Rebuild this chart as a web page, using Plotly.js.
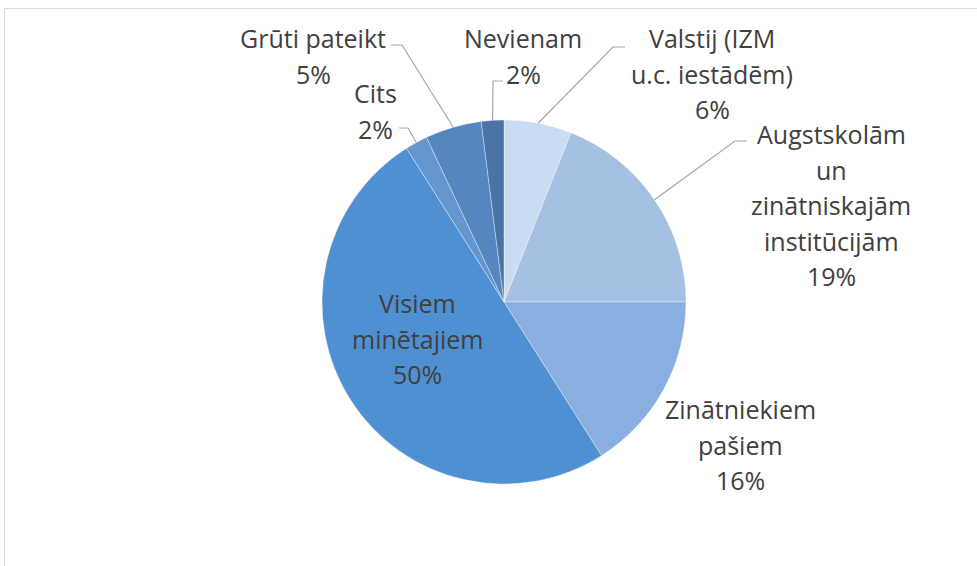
<!DOCTYPE html>
<html>
<head>
<meta charset="utf-8">
<script src="https://cdn.plot.ly/plotly-3.0.1.min.js"></script>
<style>
  html, body { margin: 0; padding: 0; background: #fff; }
  #wrap { position: relative; width: 977px; height: 566px; overflow: hidden; }
  #chart { width: 977px; height: 566px; }
  #frame { position: absolute; left: 4px; top: 8px; width: 980px; height: 570px;
           border-top: 1.5px solid #d9d9d9; border-left: 1.5px solid #d9d9d9; pointer-events: none; }
</style>
</head>
<body>
<div id="wrap"><div id="chart"></div><div id="frame"></div></div>
<script>
// Data
const categories = ["Valstij (IZM u.c. iestādēm)", "Augstskolām un zinātniskajām institūcijām",
  "Zinātniekiem pašiem", "Visiem minētajiem", "Cits", "Grūti pateikt", "Nevienam"];
const values = [6, 19, 16, 50, 2, 5, 2];
const labelLines = [
  ["Valstij (IZM", "u.c. iestādēm)"],
  ["Augstskolām", "un", "zinātniskajām", "institūcijām"],
  ["Zinātniekiem", "pašiem"],
  ["Visiem", "minētajiem"],
  ["Cits"],
  ["Grūti pateikt"],
  ["Nevienam"]
];
const colors = ["#cadcf1", "#a6c0e3", "#89afe0", "#4f90d2", "#6596cd", "#5686bf", "#4a74a6"];

// Layout (pixel geometry)
const W = 977, H = 566;
const cx = 504, cy = 302, R = 182;
const px = x => x / W, py = y => 1 - y / H;
// label anchor: [center x, first line y], leader: [elbow x, elbow y, end x] or null
const labelPos = [
  {x: 712, y: 38, leader: [613, 47, 625]},
  {x: 831, y: 134, leader: [735, 141, 747]},
  {x: 740, y: 409, leader: null},
  {x: 417, y: 303, leader: null},
  {x: 375, y: 93, leader: [408, 128, 399]},
  {x: 313, y: 38, leader: [402, 45, 391]},
  {x: 523, y: 38, leader: [493, 81, 503]}
];
const lineGap = 35.5;

const total = values.reduce((a, b) => a + b, 0);
const annotations = [];
const shapes = [];
let cum = 0;
values.forEach((v, i) => {
  const mid = (cum + v / 2) / total * 2 * Math.PI;
  cum += v;
  const pct = Math.round(v / total * 100) + "%";
  const lines = labelLines[i].concat([pct]);
  const p = labelPos[i];
  lines.forEach((t, k) => {
    annotations.push({
      xref: "paper", yref: "paper", x: px(p.x), y: py(p.y + k * lineGap),
      text: t, showarrow: false, xanchor: "center", yanchor: "middle",
      font: {family: "'Open Sans', sans-serif", size: 25, color: "#404040"}
    });
  });
  if (p.leader) {
    const ex = cx + R * Math.sin(mid), ey = cy - R * Math.cos(mid);
    const [bx, by, tx] = p.leader;
    shapes.push({
      type: "path", xref: "paper", yref: "paper",
      path: `M ${px(ex)} ${py(ey)} L ${px(bx)} ${py(by)} L ${px(tx)} ${py(by)}`,
      line: {color: "#a6a6a6", width: 1.2}
    });
  }
});

const trace = {
  type: "pie",
  labels: categories,
  values: values,
  sort: false,
  direction: "clockwise",
  rotation: 0,
  textinfo: "none",
  hoverinfo: "label+percent",
  marker: {colors: colors, line: {color: "rgba(255,255,255,0.45)", width: 0.8}},
  domain: {x: [px(cx - R), px(cx + R)], y: [py(cy + R), py(cy - R)]},
  showlegend: false
};

Plotly.newPlot("chart", [trace], {
  width: W, height: H,
  margin: {l: 0, r: 0, t: 0, b: 0},
  paper_bgcolor: "#fff",
  showlegend: false,
  annotations: annotations,
  shapes: shapes
}, {staticPlot: true});
</script>
</body>
</html>
